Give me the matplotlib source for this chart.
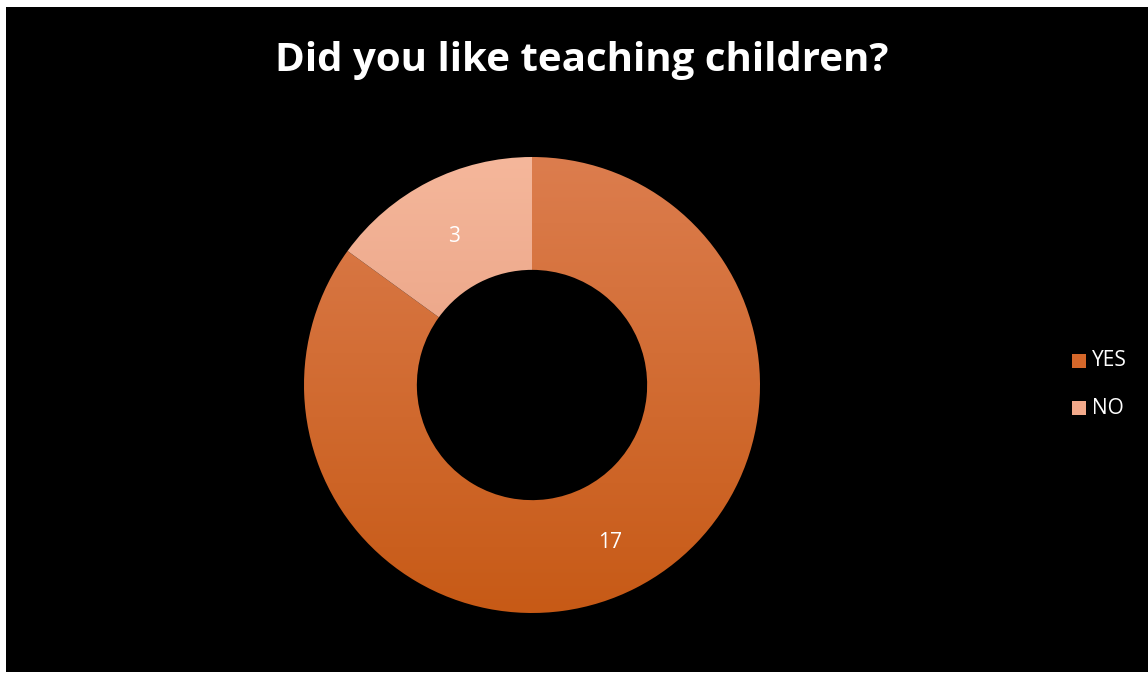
import matplotlib
matplotlib.use("Agg")
import matplotlib.pyplot as plt
import numpy as np
from matplotlib.patches import Rectangle
from matplotlib.colors import LinearSegmentedColormap

labels = ["YES", "NO"]
values = [17, 3]
title = "Did you like teaching children?"
top_colors = ["#DC7D4E", "#F5B79B"]
bottom_colors = ["#C75A16", "#DF8F6F"]
legend_colors = ["#D5672A", "#F2A98A"]

W, H = 1148, 674
fig = plt.figure(figsize=(W / 100, H / 100), dpi=100, facecolor="white")
fig.patches.append(Rectangle((6 / W, 2 / H), 1 - 6 / W, 1 - 9 / H,
                             transform=fig.transFigure, facecolor="black",
                             edgecolor="none", zorder=-10))

cx, cy, R = 532, 385, 228
ax = fig.add_axes([(cx - R) / W, (H - cy - R) / H, 2 * R / W, 2 * R / H])
ax.set_xlim(-1, 1)
ax.set_ylim(-1, 1)
ax.set_aspect("equal")
ax.axis("off")

wedges, _ = ax.pie(values, startangle=90, counterclock=False, radius=1,
                   wedgeprops=dict(width=0.495, edgecolor="none", linewidth=0))
ax.set_xlim(-1, 1)
ax.set_ylim(-1, 1)
grad = np.linspace(1, 0, 256).reshape(-1, 1)
for w, tc, bc in zip(wedges, top_colors, bottom_colors):
    w.set_facecolor("none")
    cmap = LinearSegmentedColormap.from_list("g", [bc, tc])
    im = ax.imshow(grad, extent=(-1, 1, -1, 1), cmap=cmap, aspect="auto",
                   origin="upper", zorder=1)
    im.set_clip_path(w)

# value labels at middle of ring
total = sum(values)
start = 90.0
rmid = 1 - 0.495 / 2
for v, w in zip(values, wedges):
    ang = start - v / total * 360 / 2
    start -= v / total * 360
    x, y = rmid * np.cos(np.radians(ang)), rmid * np.sin(np.radians(ang))
    ax.annotate(str(v), (x, y), xytext=(0, -3.5), textcoords="offset points",
                color="white", fontsize=15, ha="center", va="center",
                family="Open Sans", zorder=5)

fig.text(582 / W, 1 - 60 / H, title, color="white", fontsize=29,
         fontweight="bold", ha="center", va="center", family="Open Sans")

for i, (lab, col) in enumerate(zip(labels, legend_colors)):
    yc = 361 + i * 47
    fig.patches.append(Rectangle((1072 / W, 1 - (yc + 7) / H), 14 / W, 14 / H,
                                 transform=fig.transFigure, facecolor=col,
                                 edgecolor="none", zorder=2))
    fig.text(1092 / W, 1 - yc / H, lab, color="white", fontsize=15,
             ha="left", va="center", family="Open Sans")

fig.savefig("out.png", dpi=100, facecolor="white")
